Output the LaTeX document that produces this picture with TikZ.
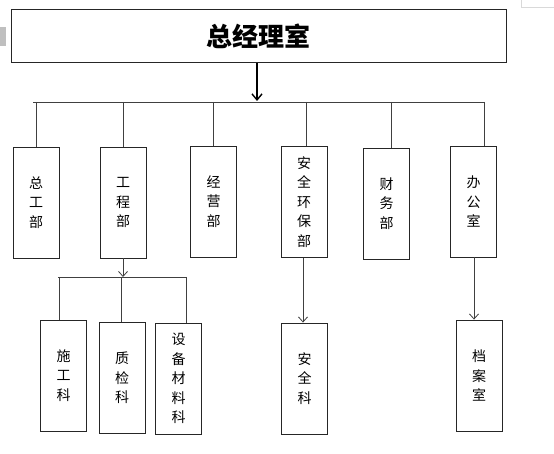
\documentclass[tikz,border=0pt]{standalone}
\usepackage{fontspec}
\newfontfamily\cjk{Noto Sans CJK SC}
\usetikzlibrary{arrows.meta}
\begin{document}
\begin{tikzpicture}[x=1pt,y=-1pt,
  box/.style={draw=black!85,line width=0.9pt,inner sep=0pt,align=center,
    minimum width=46pt,minimum height=111pt,
    font=\cjk\fontsize{14}{19.5}\selectfont},
  topbox/.style={draw=black!85,line width=1pt,inner sep=0pt,
    minimum width=495pt,minimum height=53pt,
    font=\cjk\bfseries\fontsize{26}{30}\selectfont},
  conn/.style={draw=black!75,line width=0.8pt},
  arr/.style={conn,-{Straight Barb[length=5pt,width=9pt,line width=0.8pt]}},
  toparr/.style={draw=black,line width=1.4pt,-{Straight Barb[length=6pt,width=10pt,line width=1.4pt]}},
  artifact/.style={draw=black!15,line width=0.8pt}]
\useasboundingbox (0,0) rectangle (554,454);
% screenshot artifacts
\fill[black!25] (0,27) rectangle (6,46);
\coordinate (c1) at (521,0);
\coordinate (c2) at (521,7);
\coordinate (c3) at (554,7);
\draw[artifact] (c1) -- (c2) -- (c3);
% top
\node[topbox] (top) at (258.5,36.5) {总经理室};
% level 1
\node[box] (d1) at (36,202.5) {总\\工\\部};
\node[box] (d2) at (123,202.5) {工\\程\\部};
\node[box] (d3) at (213.5,201.5) {经\\营\\部};
\node[box] (d4) at (304,202) {安\\全\\环\\保\\部};
\node[box] (d5) at (386.5,203.5) {财\\务\\部};
\node[box] (d6) at (473.5,201.5) {办\\公\\室};
% level 2
\node[box] (s1) at (63.5,375.5) {施\\工\\科};
\node[box] (s2) at (122,378) {质\\检\\科};
\node[box] (s3) at (178.5,378.5) {设\\备\\材\\料\\科};
\node[box] (s4) at (304.5,378.5) {安\\全\\科};
\node[box] (s5) at (479,375.5) {档\\案\\室};
% main bus
\coordinate (busL) at (33,102);
\coordinate (busR) at (485,102);
\draw[conn] (busL) -- (busR);
\draw[toparr] (top.south -| 257,0) -- (257,101);
\coordinate (b1) at (36,102);
\coordinate (b2) at (123,102);
\coordinate (b3) at (213,102);
\coordinate (b4) at (306,102);
\coordinate (b5) at (391,102);
\coordinate (b6) at (484,102);
\draw[conn] (b1) -- (b1 |- d1.north);
\draw[conn] (b2) -- (b2 |- d2.north);
\draw[conn] (b3) -- (b3 |- d3.north);
\draw[conn] (b4) -- (b4 |- d4.north);
\draw[conn] (b5) -- (b5 |- d5.north);
\draw[conn] (b6) -- (b6 |- d6.north);
% sub bus
\coordinate (sbL) at (58,277);
\coordinate (sbR) at (187,277);
\draw[conn] (sbL) -- (sbR);
\draw[arr] (d2.south) -- (d2.south |- sbL);
\coordinate (e1) at (59,277);
\coordinate (e2) at (121,277);
\coordinate (e3) at (186,277);
\draw[conn] (e1) -- (e1 |- s1.north);
\draw[conn] (e2) -- (e2 |- s2.north);
\draw[conn] (e3) -- (e3 |- s3.north);
% vertical arrows
\coordinate (f4) at (303,258);
\coordinate (f6) at (474,257);
\draw[arr] (f4) -- (f4 |- s4.north);
\draw[arr] (f6) -- (f6 |- s5.north);
\end{tikzpicture}
\end{document}
